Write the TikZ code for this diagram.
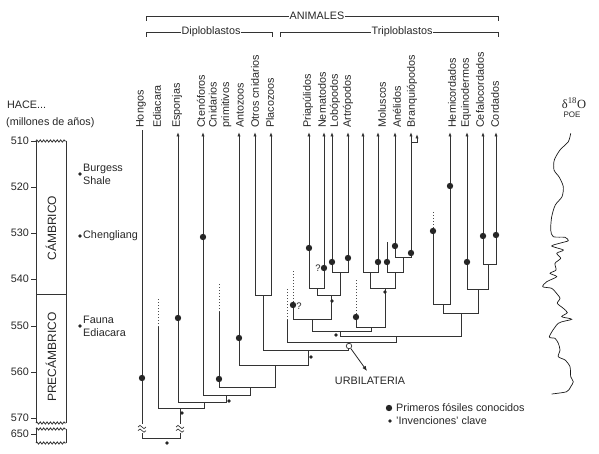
\documentclass[tikz,border=0pt]{standalone}
\usepackage{fontspec}
\setmainfont{Liberation Sans}
\newfontfamily\serifrm{Liberation Serif}
\usetikzlibrary{arrows.meta,decorations.pathmorphing}
\tikzset{
  branch/.style={draw=black!80,line width=0.8pt},
  tipped/.style={branch,-{Latex[length=4.5pt,width=3.2pt]}},
  ghost/.style={draw=black!70,line width=0.8pt,dash pattern=on 1.2pt off 1.8pt},
  fossil/.style={circle,fill=black!85,inner sep=0pt,minimum size=6.4pt},
  invent/.style={circle,fill=black!85,inner sep=0pt,minimum size=3.6pt},
  taxon/.style={rotate=90,anchor=west,inner sep=0pt,text=black!85,font=\fontsize{10.8}{12.5}\selectfont},
  txt/.style={inner sep=0pt,text=black!85,font=\fontsize{10.8}{13}\selectfont},
  wavy/.style={branch,decorate,decoration={zigzag,segment length=3.4pt,amplitude=1.1pt}},
  gapmark/.pic={
    \fill[white] (-5,-4.5) rectangle (5,4.5);
    \draw[black!80,line width=0.7pt] (-4,-1) sin (-2,-2.6) cos (0,-1) sin (2,0.6) cos (4,-1);
    \draw[black!80,line width=0.7pt] (-4,2.6) sin (-2,1) cos (0,2.6) sin (2,4.2) cos (4,2.6);
  },
}
\begin{document}
\begin{tikzpicture}[x=1pt,y=-1pt]
    \useasboundingbox (0,0) rectangle (599,454);

    % brackets on top
    \node[txt] (animales) at (317,16) {ANIMALES};
    \node[txt] (diplo) at (211,32) {Diploblastos};
    \node[txt] (triplo) at (402,32) {Triploblastos};
    \draw[branch,line width=0.7pt] (146,21) |- (animales.west);
    \draw[branch,line width=0.7pt] (animales.east) -| (498,21);
    \draw[branch,line width=0.7pt] (146,37) |- (diplo.west);
    \draw[branch,line width=0.7pt] (diplo.east) -| (272,37);
    \draw[branch,line width=0.7pt] (280,37) |- (triplo.west);
    \draw[branch,line width=0.7pt] (triplo.east) -| (498,37);

    % taxa
    \foreach \x/\t in {141/Hongos, 157/Ediacara, 177/Esponjas, 201/Ctenóforos, 240/Antozoos,
        255/Otros cnidarios, 270/Placozoos, 308/Priapúlidos, 322/Nematodos, 335/Lobópodos,
        348/Artrópodos, 382/Moluscos, 397/Anélidos, 412/Branquiópodos, 452/Hemicordados,
        466/Equinodermos, 480/Cefalocordados, 495/Cordados}
      \node[taxon] (t\x) at (\x,128) {\t};
    \node[taxon,align=left] (tcnp) at (220,128) {Cnidarios\\primitivos};

    \foreach \n/\x in {esp/178, cte/203, ant/239, otr/255, pla/271, pri/309, nem/324, lob/332,
        art/348, unk/363, mol/378, ane/395, bra/411, hem/450, equ/467, cef/483, cor/496}
      \coordinate (\n) at (\x,132);
    \coordinate (hon) at (142,130);
    \coordinate (edi) at (158,327);
    \coordinate (edi-q) at (158,298);
    \coordinate (cnp) at (219,312);
    \coordinate (cnp-q) at (219,283);
    \coordinate (gry) at (287,320);
    \coordinate (gry-q) at (287,288);
    \coordinate (ecq) at (293,305);
    \coordinate (ecq-q) at (293,270);
    \coordinate (lpq) at (356,317);
    \coordinate (lpq-q) at (356,280);
    \coordinate (brs) at (387,242);
    \coordinate (hmq) at (433,231);
    \coordinate (hmq-q) at (433,212);
    \coordinate (bra-j) at (411,142);
    \coordinate (bra2) at (417,134);

    \coordinate (nRoot) at (160.5,438);
    \coordinate (nAnim) at (180,408);
    \coordinate (nPara) at (204,402);
    \coordinate (nEume) at (226,395);
    \coordinate (nCnid) at (250,387);
    \coordinate (nAnto) at (275,365);
    \coordinate (nPlac) at (308,350.7);
    \coordinate (nOtro) at (263,295);
    \coordinate (nBila) at (348,342);
    \coordinate (nNeph) at (396,336);
    \coordinate (nProt) at (340,331);
    \coordinate (nDeut) at (461,313);
    \coordinate (nEcdy) at (312,319);
    \coordinate (nEcd2) at (331,295);
    \coordinate (nPrNe) at (317,288);
    \coordinate (nLoAr) at (340,272);
    \coordinate (nLoph) at (371,327);
    \coordinate (nLo2) at (385,288);
    \coordinate (nLo3) at (370,272);
    \coordinate (nLo4) at (395,272);
    \coordinate (nLo5) at (403,257);
    \coordinate (nHemi) at (443,304);
    \coordinate (nEchi) at (478,289);
    \coordinate (nChor) at (488,264);

    \foreach \p/\c in {nRoot/hon, nRoot/nAnim, nAnim/edi, nAnim/nPara, nPara/nEume, nEume/nCnid,
        nCnid/cnp, nCnid/nAnto, nAnto/nPlac, nPlac/nOtro, nPlac/nBila, nBila/gry, nBila/nNeph,
        nNeph/nProt, nNeph/nDeut, nProt/nEcdy, nProt/nLoph, nEcdy/ecq, nEcdy/nEcd2, nEcd2/nPrNe,
        nEcd2/nLoAr, nLoph/lpq, nLoph/nLo2, nLo2/nLo3, nLo2/nLo4, nLo4/brs, nLo4/nLo5,
        nDeut/nHemi, nDeut/nEchi, nHemi/hmq, nEchi/nChor}
      \draw[branch] (\p) -| (\c);
    \foreach \p/\c in {nPara/esp, nEume/cte, nAnto/ant, nOtro/otr, nOtro/pla, nPrNe/pri,
        nPrNe/nem, nLoAr/lob, nLoAr/art, nLo3/unk, nLo3/mol, nLo5/ane, nLo5/bra, nHemi/hem,
        nEchi/equ, nChor/cef, nChor/cor, bra-j/bra2}
      \draw[tipped] (\p) -| (\c);
    \foreach \a in {edi, cnp, gry, ecq, lpq, hmq}
      \draw[ghost] (\a) -- (\a-q);

    \pic at (142,428) {gapmark};
    \pic at (180,428) {gapmark};

    % fossils
    \foreach \n/\x/\y in {hon/142/378, esp/178/318, cte/203/237, cnp/219/379, ant/239/338,
        pri/309/248, nem/324/268, lob/332/262, art/348/258, mol/378/262, brs/387/262,
        ane/395/246, bra/411/253, ecq/293/305, lpq/356/317, hmq/433/231, hem/450/186,
        equ/467/262, cef/483/236, cor/496/235}
      \node[fossil] (f-\n) at (\x,\y) {};
    \node[txt,font=\fontsize{9.5}{10}\selectfont] (q1) at (318,268) {?};
    \node[txt,font=\fontsize{9.5}{10}\selectfont] (q2) at (299,306) {?};

    % inventions
    \foreach \x/\y [count=\i] in {167/443, 182/413, 229/401, 311/357, 336/335, 332/301, 385/292}
      \node[invent] (i\i) at (\x,\y) {};

    \node[circle,draw=black!80,fill=white,line width=0.7pt,inner sep=0pt,minimum size=5.5pt] (urb) at (349,346) {};
    \node[txt] (urbtxt) at (370,381) {URBILATERIA};
    \draw[black!85,line width=0.8pt,-{Latex[length=5pt,width=4pt]}] (urb) -- (367,371);

    % time scale
    \node[txt,anchor=west] (hace) at (7,105) {HACE...};
    \node[txt,anchor=west] (millones) at (6,123) {(millones de años)};
    \foreach \a/\y in {510/141, 520/187, 530/233, 540/279, 550/326, 560/372, 570/418, 650/434} {
      \draw[branch,line width=0.7pt] (31,\y) -- (36,\y);
      \node[txt,anchor=east] (age\a) at (29,\y) {\a};
    }
    \draw[branch] (36,141) -- (36,423) (66,141) -- (66,423) (36,294) -- (66,294);
    \draw[branch] (36,429) -- (36,443) (66,429) -- (66,443);
    \draw[wavy] (36,141) -- (66,141);
    \draw[wavy] (36,423) -- (66,423);
    \draw[wavy] (36,429) -- (66,429);
    \draw[wavy] (36,443) -- (66,443);
    \node[txt,rotate=90,font=\fontsize{12}{12}\selectfont] (camb) at (51,228) {CÁMBRICO};
    \node[txt,rotate=90,font=\fontsize{12}{12}\selectfont] (precamb) at (51,357) {PRECÁMBRICO};

    \foreach \y/\t [count=\i] in {174/{Burgess\\Shale}, 236/Chengliang, 326/{Fauna\\Ediacara}} {
      \node[invent] (s\i) at (80,\y) {};
      \node[txt,anchor=west,align=left] (site\i) at (83,\y) {\t};
    }

    % legend
    \node[fossil] (leg1) at (389,408) {};
    \node[txt,anchor=west] (legt1) at (396,408) {Primeros fósiles conocidos};
    \node[invent] (leg2) at (390,421) {};
    \node[txt,anchor=west] (legt2) at (396,421) {'Invenciones' clave};

    % oxygen curve
    \node[txt,font=\serifrm\fontsize{12.5}{13}\selectfont] (d18o) at (574,103) {δ\textsuperscript{18}O};
    \node[txt,font=\fontsize{8}{9}\selectfont] (poe) at (572,115) {POE};
    \draw[black!90,line width=0.7pt] plot[smooth,tension=0.45] coordinates {
      (570.7,133.3) (568.3,141.7) (560,150) (554.3,160) (554,170) (559.3,177.3) (563.3,186.7)
      (562,196.7) (555.3,205) (551.7,216.7) (550.7,230) (553.3,236.7) (565,237.3) (568.3,240.7)
      (561.7,242.7) (551.7,246) (563.3,250) (556.7,253.3) (560.7,258.3) (555,263.3) (556,270)
      (550,273.3) (556.7,276.7) (546.7,281.7) (542.7,286.7) (551.7,288.3) (556,292.7) (560,298.3)
      (557.3,303.3) (563.3,308.3) (567.3,312.7) (561.7,316.7) (571.7,319.3) (558.3,323.3)
      (549.3,336.7) (555,338.3) (558.3,343.3) (560,350) (558.3,356.7) (565,360) (570,366.7)
      (570.7,376.7) (573.3,381.7) (570.7,386.7) (566.7,391.7) (551.7,394)};
\end{tikzpicture}
\end{document}
